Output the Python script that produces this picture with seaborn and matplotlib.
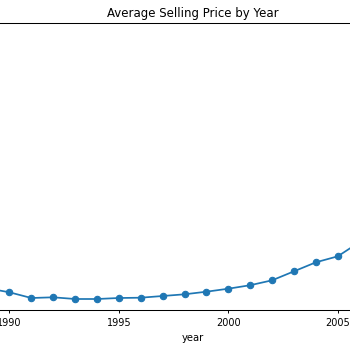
import matplotlib
matplotlib.use("Agg")
import matplotlib.pyplot as plt
import pandas as pd
import seaborn as sns

# average selling price per year (arbitrary units)
years = [1989, 1990, 1991, 1992, 1993, 1994, 1995, 1996, 1997,
         1998, 1999, 2000, 2001, 2002, 2003, 2004, 2005, 2006]
avg_price = [110.7, 106.7, 101.0, 101.7, 100.0, 100.0, 101.0, 101.3, 103.0,
             104.7, 107.3, 110.3, 113.8, 118.7, 127.7, 136.7, 142.7, 157.0]

df = pd.DataFrame({"year": years, "price": avg_price})

# reference looks like a default matplotlib chart shrunk to ~70%
plt.rcParams.update({
    "font.size": 7,
    "axes.titlesize": 8.45,
    "axes.labelsize": 7.2,
    "xtick.labelsize": 7,
    "ytick.labelsize": 7,
    "axes.linewidth": 0.75,
    "xtick.major.size": 2.5,
    "xtick.major.width": 0.7,
    "xtick.major.pad": 3.6,
    "axes.titlepad": 4.2,
    "axes.labelpad": 3.6,
})

fig = plt.figure(figsize=(3.5, 3.5), dpi=100)
# the reference is a crop of a wider chart: axes run past both edges
ax = fig.add_axes([-100 / 350, 40 / 350, 586 / 350, 287 / 350])

sns.lineplot(data=df, x="year", y="price", ax=ax, marker="o",
             color="#1f77b4", linewidth=1.25, markersize=4.6,
             markeredgecolor="#1f77b4", markeredgewidth=0.8)

ax.set_xlim(1985.14, 2011.77)
ax.set_ylim(89, 376)
ax.set_xticks([1985, 1990, 1995, 2000, 2005, 2010])
ax.set_ylabel("")
ax.set_xlabel("year")
ax.set_title("Average Selling Price by Year")

fig.savefig("out.png", dpi=100)
